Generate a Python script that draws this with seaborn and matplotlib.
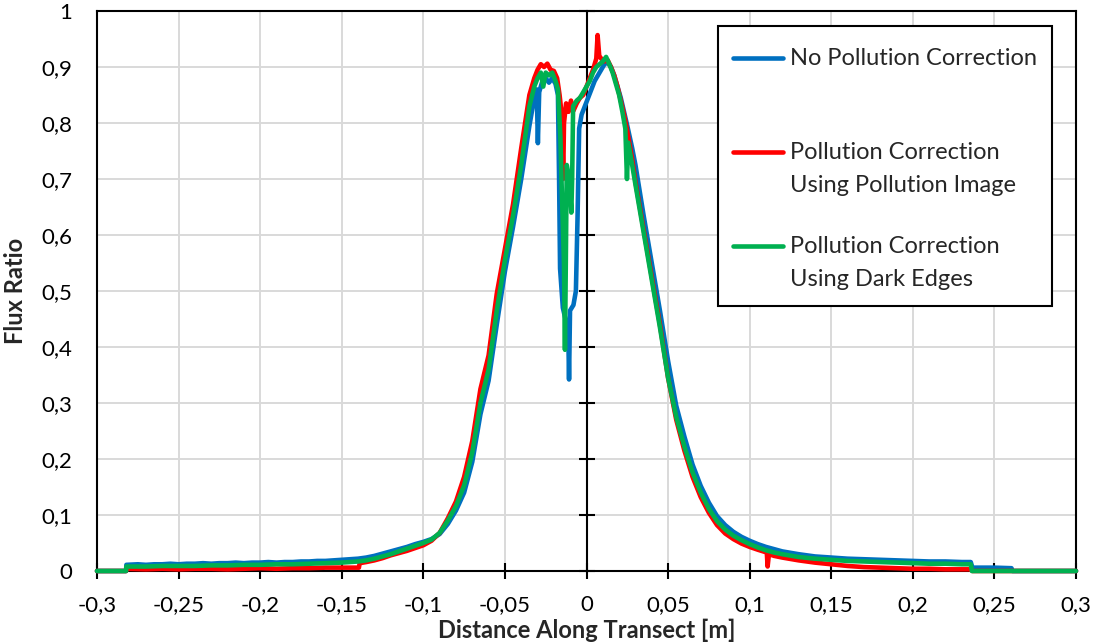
import matplotlib
matplotlib.use("Agg")
import matplotlib.pyplot as plt
import seaborn as sns
import pandas as pd

# ---------------- data ----------------
series_names = ["No Pollution Correction",
                "Pollution Correction\nUsing Pollution Image",
                "Pollution Correction\nUsing Dark Edges"]
series_colors = ["#0070C0", "#FF0000", "#00B050"]

blue_x = [-0.300, -0.2822, -0.2820, -0.275, -0.27, -0.265, -0.26, -0.255, -0.25, -0.245,
          -0.24, -0.235, -0.23, -0.225, -0.22, -0.215, -0.21, -0.205, -0.2, -0.195,
          -0.19, -0.185, -0.18, -0.175, -0.17, -0.165, -0.16, -0.155, -0.15, -0.145,
          -0.14, -0.135, -0.13, -0.125, -0.12, -0.115, -0.11, -0.105, -0.1, -0.095,
          -0.09, -0.085, -0.08, -0.075, -0.07, -0.065, -0.06, -0.055, -0.05, -0.045,
          -0.04, -0.035, -0.032, -0.0305, -0.0298, -0.029, -0.027, -0.025, -0.023, -0.021,
          -0.019, -0.0175, -0.0168, -0.0162, -0.0145, -0.0125, -0.0112, -0.0107, -0.0101, -0.008,
          -0.0065, -0.0055, -0.0045, -0.003, -0.001, 0.001, 0.003, 0.005, 0.007, 0.009,
          0.011, 0.013, 0.015, 0.017, 0.019, 0.021, 0.023, 0.025, 0.028, 0.03,
          0.035, 0.04, 0.045, 0.05, 0.055, 0.06, 0.065, 0.07, 0.075, 0.08,
          0.085, 0.09, 0.095, 0.1, 0.105, 0.11, 0.115, 0.12, 0.13, 0.14,
          0.15, 0.16, 0.17, 0.18, 0.19, 0.2, 0.21, 0.22, 0.23, 0.2355,
          0.2365, 0.25, 0.2605, 0.261, 0.3]
blue_y = [0.0, 0.0, 0.011, 0.012, 0.011, 0.012, 0.012, 0.013, 0.012, 0.013,
          0.013, 0.014, 0.013, 0.014, 0.014, 0.015, 0.014, 0.015, 0.015, 0.016,
          0.015, 0.016, 0.016, 0.017, 0.017, 0.018, 0.018, 0.019, 0.020, 0.021,
          0.022, 0.024, 0.027, 0.031, 0.035, 0.039, 0.043, 0.048, 0.052, 0.057,
          0.066, 0.084, 0.108, 0.140, 0.195, 0.280, 0.340, 0.440, 0.535, 0.615,
          0.700, 0.795, 0.845, 0.860, 0.764, 0.855, 0.875, 0.880, 0.872, 0.880,
          0.870, 0.850, 0.700, 0.540, 0.470, 0.445, 0.430, 0.342, 0.465, 0.475,
          0.500, 0.630, 0.790, 0.815, 0.830, 0.845, 0.860, 0.875, 0.885, 0.895,
          0.905, 0.908, 0.900, 0.885, 0.865, 0.845, 0.820, 0.795, 0.755, 0.725,
          0.635, 0.550, 0.465, 0.375, 0.295, 0.240, 0.190, 0.152, 0.122, 0.098,
          0.082, 0.070, 0.061, 0.054, 0.048, 0.043, 0.039, 0.035, 0.030, 0.026,
          0.024, 0.022, 0.021, 0.020, 0.019, 0.018, 0.017, 0.017, 0.016, 0.016,
          0.006, 0.006, 0.005, 0.0, 0.0]

red_x = [-0.3, -0.2822, -0.282, -0.27, -0.26, -0.25, -0.24, -0.23, -0.22, -0.21,
         -0.2, -0.19, -0.18, -0.17, -0.16, -0.15, -0.1395, -0.139, -0.135, -0.13,
         -0.125, -0.12, -0.115, -0.11, -0.105, -0.1, -0.095, -0.09, -0.085, -0.08,
         -0.075, -0.07, -0.065, -0.06, -0.055, -0.05, -0.045, -0.04, -0.035, -0.032,
         -0.03, -0.028, -0.026, -0.024, -0.022, -0.02, -0.018, -0.0165, -0.015, -0.0143,
         -0.0138, -0.0125, -0.011, -0.0095, -0.008, -0.006, -0.004, -0.002, 0.0, 0.002,
         0.004, 0.006, 0.0068, 0.0078, 0.009, 0.011, 0.013, 0.015, 0.017, 0.019,
         0.021, 0.023, 0.025, 0.028, 0.03, 0.035, 0.04, 0.045, 0.05, 0.055,
         0.06, 0.065, 0.07, 0.075, 0.08, 0.085, 0.09, 0.095, 0.1, 0.105,
         0.1105, 0.111, 0.1118, 0.115, 0.12, 0.13, 0.14, 0.15, 0.16, 0.17,
         0.18, 0.19, 0.2, 0.21, 0.22, 0.23, 0.2355, 0.2365, 0.3]
red_y = [0.0, 0.0, 0.004, 0.003, 0.004, 0.003, 0.004, 0.004, 0.003, 0.004,
         0.005, 0.004, 0.005, 0.005, 0.006, 0.006, 0.006, 0.014, 0.016, 0.019,
         0.023, 0.028, 0.032, 0.036, 0.041, 0.046, 0.054, 0.068, 0.094, 0.124,
         0.168, 0.232, 0.325, 0.385, 0.495, 0.575, 0.655, 0.755, 0.850, 0.880,
         0.895, 0.905, 0.900, 0.906, 0.895, 0.893, 0.880, 0.850, 0.810, 0.700,
         0.800, 0.835, 0.820, 0.840, 0.822, 0.835, 0.845, 0.850, 0.865, 0.880,
         0.895, 0.915, 0.957, 0.920, 0.915, 0.910, 0.912, 0.900, 0.885, 0.865,
         0.840, 0.815, 0.785, 0.735, 0.695, 0.610, 0.525, 0.440, 0.345, 0.270,
         0.215, 0.168, 0.132, 0.104, 0.082, 0.067, 0.057, 0.049, 0.043, 0.038,
         0.033, 0.008, 0.030, 0.027, 0.024, 0.019, 0.015, 0.012, 0.009, 0.007,
         0.006, 0.005, 0.004, 0.004, 0.003, 0.003, 0.003, 0.0, 0.0]

green_x = [-0.3, -0.2822, -0.282, -0.27, -0.26, -0.25, -0.24, -0.23, -0.22, -0.21,
           -0.2, -0.19, -0.18, -0.17, -0.16, -0.15, -0.145, -0.14, -0.135, -0.13,
           -0.125, -0.12, -0.115, -0.11, -0.105, -0.1, -0.095, -0.09, -0.085, -0.08,
           -0.075, -0.07, -0.065, -0.06, -0.055, -0.05, -0.045, -0.04, -0.035, -0.032,
           -0.03, -0.028, -0.0265, -0.025, -0.023, -0.021, -0.019, -0.0175, -0.016, -0.0152,
           -0.0138, -0.0132, -0.0121, -0.0105, -0.0093, -0.0088, -0.0082, -0.006, -0.004, -0.002,
           0.0, 0.002, 0.004, 0.006, 0.008, 0.01, 0.012, 0.014, 0.016, 0.018,
           0.02, 0.022, 0.0238, 0.0248, 0.0256, 0.028, 0.03, 0.035, 0.04, 0.045,
           0.05, 0.055, 0.06, 0.065, 0.07, 0.075, 0.08, 0.085, 0.09, 0.095,
           0.1, 0.105, 0.11, 0.115, 0.12, 0.13, 0.14, 0.15, 0.16, 0.17,
           0.18, 0.19, 0.2, 0.21, 0.22, 0.23, 0.2355, 0.2362, 0.3]
green_y = [0.0, 0.0, 0.008, 0.008, 0.009, 0.009, 0.009, 0.010, 0.010, 0.011,
           0.011, 0.012, 0.012, 0.013, 0.014, 0.015, 0.016, 0.017, 0.019, 0.022,
           0.026, 0.030, 0.035, 0.040, 0.045, 0.050, 0.056, 0.068, 0.090, 0.116,
           0.153, 0.212, 0.300, 0.360, 0.465, 0.555, 0.635, 0.725, 0.830, 0.865,
           0.880, 0.890, 0.865, 0.890, 0.885, 0.890, 0.875, 0.860, 0.775, 0.686,
           0.550, 0.395, 0.725, 0.700, 0.640, 0.700, 0.830, 0.840, 0.845, 0.855,
           0.865, 0.875, 0.890, 0.900, 0.905, 0.910, 0.918, 0.905, 0.890, 0.870,
           0.850, 0.820, 0.790, 0.700, 0.765, 0.725, 0.690, 0.605, 0.520, 0.435,
           0.345, 0.275, 0.222, 0.176, 0.140, 0.111, 0.089, 0.074, 0.063, 0.055,
           0.048, 0.042, 0.037, 0.033, 0.030, 0.025, 0.022, 0.020, 0.018, 0.017,
           0.016, 0.015, 0.014, 0.013, 0.013, 0.012, 0.012, 0.0, 0.0]

x_ticks = [-0.3, -0.25, -0.2, -0.15, -0.1, -0.05, 0.0, 0.05, 0.1, 0.15, 0.2, 0.25, 0.3]
x_tick_labels = ["-0,3", "-0,25", "-0,2", "-0,15", "-0,1", "-0,05", "0",
                 "0,05", "0,1", "0,15", "0,2", "0,25", "0,3"]
y_ticks = [0.0, 0.1, 0.2, 0.3, 0.4, 0.5, 0.6, 0.7, 0.8, 0.9, 1.0]
y_tick_labels = ["0", "0,1", "0,2", "0,3", "0,4", "0,5", "0,6", "0,7", "0,8", "0,9", "1"]

x_label = "Distance Along Transect [m]"
y_label = "Flux Ratio"

# ---------------- figure ----------------
sns.set_theme(style="white")
plt.rcParams['font.family'] = ['Lato', 'DejaVu Sans']

fig = plt.figure(figsize=(10.95, 6.44), dpi=100)
ax = fig.add_axes([97 / 1095, 73 / 644, 979 / 1095, 560 / 644])

frames = []
for name, xs, ys in zip(series_names, [blue_x, red_x, green_x], [blue_y, red_y, green_y]):
    assert len(xs) == len(ys), name
    frames.append(pd.DataFrame({"x": xs, "y": ys, "series": name}))
df = pd.concat(frames, ignore_index=True)

sns.lineplot(data=df, x="x", y="y", hue="series", hue_order=series_names,
             palette=series_colors, estimator=None, sort=False, linewidth=3.3,
             legend=False, ax=ax)
for ln in ax.lines:
    ln.set_clip_on(False)
    ln.set_zorder(3)
    ln.set_solid_joinstyle("round")

ax.set_xlim(-0.3, 0.3)
ax.set_ylim(0, 1)
ax.set_xticks(x_ticks)
ax.set_xticklabels(x_tick_labels)
ax.set_yticks(y_ticks)
ax.set_yticklabels(y_tick_labels)

ax.grid(True, color="#D9D9D9", linewidth=1.4)
ax.set_axisbelow(True)

for s in ax.spines.values():
    s.set_visible(True)
    s.set_color("black")
    s.set_linewidth(1.5)

ax.tick_params(axis="x", direction="inout", length=12, width=1.5, color="black",
               labelsize=16, pad=11, labelcolor="black", bottom=True)
ax.tick_params(axis="y", length=0, labelsize=16, pad=18, labelcolor="black", left=True)

# vertical axis crossing at x = 0 with cross tick marks
sec = ax.secondary_yaxis(0.5)
sec.set_zorder(2.6)
sec.set_yticks(y_ticks)
sec.tick_params(axis="y", direction="inout", length=12, width=1.5, color="black",
                labelleft=False, labelright=False)
for s in sec.spines.values():
    s.set_color("black")
    s.set_linewidth(1.5)

ax.set_xlabel(x_label, fontsize=17, fontweight="bold", labelpad=3)
ax.set_ylabel(y_label, fontsize=17, fontweight="bold", labelpad=10)

# legend
labels_leg = [series_names[0] + "\n"] + series_names[1:]
leg = ax.legend(ax.lines[:3], labels_leg, loc="upper right",
                bbox_to_anchor=((1052 - 97) / 979, (571 - 26) / 560),
                borderaxespad=0, frameon=True, fancybox=False, framealpha=1,
                edgecolor="black", fontsize=17, handlelength=2.1,
                handleheight=1.15, handletextpad=0.3, labelspacing=1.68,
                borderpad=0.65, title=" ", title_fontsize=5)
leg.get_frame().set_linewidth(1.5)
leg._legend_box.sep = 0
for t in leg.get_texts():
    t.set_linespacing(1.72)
for col in leg._legend_handle_box.get_children():
    for item in col.get_children():
        item.align = "top"

fig.savefig("out.png", dpi=100)
